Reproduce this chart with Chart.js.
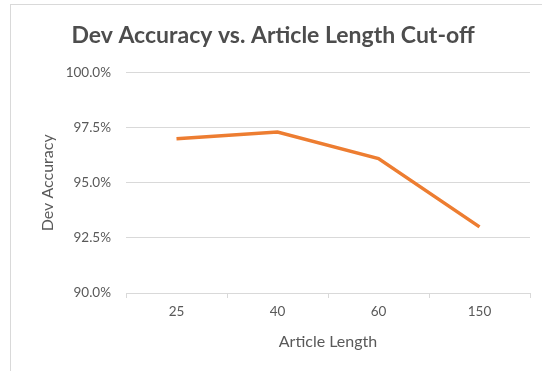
<!DOCTYPE html>
<html>
<head>
<meta charset="utf-8">
<script src="https://cdn.jsdelivr.net/npm/chart.js@4"></script>
<style>
    html, body {
        margin: 0;
        padding: 0;
        background: #ffffff;
    }
    #wrap {
        position: relative;
        width: 542px;
        height: 371px;
    }
    #frame {
        position: absolute;
        left: 10px;
        top: 4px;
        right: -2px;
        bottom: -2px;
        border-left: 1px solid #d9d9d9;
        border-top: 1px solid #d9d9d9;
    }
</style>
</head>
<body>
<div id="wrap">
    <div id="frame"></div>
    <canvas id="chart" width="542" height="371"></canvas>
</div>
<script>
// data
const lengths = ['25', '40', '60', '150'];
const devAccuracy = [97.0, 97.3, 96.1, 93.0];
const accuracyTicks = [90, 92.5, 95, 97.5, 100];

const textGrey = '#595959';
const fontName = 'Lato';

const ctx = document.getElementById('chart').getContext('2d');
new Chart(ctx, {
    type: 'line',
    data: {
        labels: lengths,
        datasets: [
            {
                label: 'Dev Accuracy',
                data: devAccuracy,
                borderColor: '#ed7d31',
                backgroundColor: '#ed7d31',
                borderWidth: 3.5,
                pointRadius: 0,
                fill: false,
                tension: 0,
            },
        ],
    },
    options: {
        responsive: false,
        animation: false,
        layout: {
            padding: { left: 16, right: 12, top: 0, bottom: 14 },
        },
        plugins: {
            legend: { display: false },
            tooltip: { enabled: false },
            title: {
                display: true,
                text: 'Dev Accuracy vs. Article Length Cut-off',
                color: '#4d4d4d',
                font: { family: fontName, size: 23, weight: 'bold' },
                padding: { top: 22, bottom: 23 },
            },
        },
        scales: {
            x: {
                offset: true,
                grid: {
                    offset: true,
                    drawOnChartArea: false,
                    drawTicks: true,
                    tickLength: 5,
                    color: '#d9d9d9',
                },
                border: { color: '#d9d9d9' },
                ticks: {
                    color: textGrey,
                    font: { family: fontName, size: 13.5 },
                    padding: 6,
                },
                title: {
                    display: true,
                    text: 'Article Length',
                    color: textGrey,
                    font: { family: fontName, size: 16 },
                    padding: { top: 6, bottom: 6 },
                },
                afterFit(scale) {
                    scale.height = 64;
                },
            },
            y: {
                min: 90,
                max: 100,
                afterBuildTicks(scale) {
                    scale.ticks = accuracyTicks.map((v) => ({ value: v }));
                },
                grid: {
                    color: '#d9d9d9',
                    drawTicks: false,
                },
                border: { display: false },
                ticks: {
                    color: textGrey,
                    font: { family: fontName, size: 13.5 },
                    padding: 15,
                    callback: (v) => `${Number(v).toFixed(1)}%`,
                },
                title: {
                    display: true,
                    text: 'Dev Accuracy',
                    color: textGrey,
                    font: { family: fontName, size: 16 },
                    padding: { top: 22, bottom: 6 },
                },
                afterFit(scale) {
                    scale.width = 110;
                },
            },
        },
    },
});
</script>
</body>
</html>
